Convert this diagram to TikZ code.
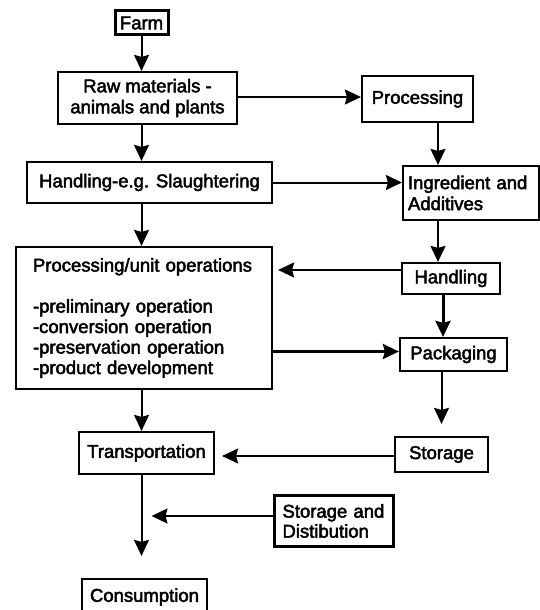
\documentclass[tikz,border=0pt]{standalone}
\usepackage{fontspec}
\setmainfont{Liberation Sans}[FakeBold=2.5,AutoFakeBold=2.5]
\usetikzlibrary{arrows.meta,calc}
\tikzset{
  box/.style={draw=black, line width=2.2pt, fill=white, inner sep=0pt, align=center,
    font=\fontsize{18.5}{21}\selectfont, text=black},
  lbox/.style={box, align=left},
  arr/.style={line width=2pt, -{Stealth[length=16pt,width=15pt,inset=2pt]}},
  tarr/.style={arr, line width=3pt},
}
\begin{document}
\begin{tikzpicture}[x=1pt,y=-1pt]
\useasboundingbox[fill=white] (0,0) rectangle (540,610);
\node[box, line width=3pt, minimum width=53pt, minimum height=24pt] (farm) at (141.5,23) {Farm};
\node[box, minimum width=179pt, minimum height=52pt] (raw) at (147.5,98) {Raw materials -\\animals and plants};
\node[box, minimum width=111pt, minimum height=46pt] (proc) at (417.5,99) {Processing};
\node[box, minimum width=245pt, minimum height=41pt] (hand1) at (149.5,182.5) {Handling-e.g. Slaughtering};
\node[lbox, text width=126pt, minimum height=54pt, inner xsep=5pt] (ingr) at (471,193) {Ingredient and\\Additives};
\node[lbox, text width=222pt, minimum height=142pt, inner xsep=17pt, font=\fontsize{18.5}{20.5}\selectfont] (unit) at (144,318) {Processing/unit operations\\[20.5pt]-preliminary operation\\-conversion operation\\-preservation operation\\-product development};
\node[box, minimum width=98pt, minimum height=31pt] (hand2) at (451,278.5) {Handling};
\node[box, minimum width=107pt, minimum height=33pt] (pack) at (453.5,354.5) {Packaging};
\node[box, minimum width=135pt, minimum height=42pt] (trans) at (146.5,453) {Transportation};
\node[box, minimum width=93pt, minimum height=35pt] (stor) at (441.5,454.5) {Storage};
\node[lbox, text width=103pt, minimum height=51pt, inner xsep=8pt, font=\fontsize{18.5}{20}\selectfont] (sd) at (334,521) {Storage and\\Distibution};
\node[box, minimum width=125pt, minimum height=36pt] (cons) at (144.5,597) {Consumption};

\draw[arr] (farm.south) -- (farm.south |- raw.north);
\draw[arr] (raw.south -| farm) -- (hand1.north -| farm);
\draw[arr] ([yshift=1pt]raw.east) -- ([yshift=1pt]raw.east -| proc.west);
\draw[arr] ([xshift=20.5pt]proc.south) coordinate (p1) -- (p1 |- ingr.north);
\draw[arr] (hand1.east) -- (hand1.east -| ingr.west);
\draw[arr] (hand1.south -| farm) -- (unit.north -| farm);
\draw[arr] (p1 |- ingr.south) -- (p1 |- hand2.north);
\draw[arr, shorten >=5pt] ([yshift=8.5pt]hand2.west) -- ([yshift=8.5pt]hand2.west -| unit.east);
\draw[tarr] ([xshift=-8pt]hand2.south) coordinate (p2) -- (p2 |- pack.north);
\draw[tarr] ([yshift=3pt]pack.west -| unit.east) -- ([yshift=3pt]pack.west);
\draw[arr] (unit.south -| farm) -- (trans.north -| farm);
\draw[arr, shorten >=12pt] (pack.south -| stor) -- (stor.north);
\draw[arr, shorten >=7pt] ([yshift=-1.5pt]stor.west) -- ([yshift=-1.5pt]stor.west -| trans.east);
\draw[arr, shorten >=22pt] (trans.south -| farm) -- (cons.north -| farm);
\draw[arr, shorten >=10pt] ([yshift=5pt]sd.west) -- ([yshift=5pt]sd.west -| farm);
\end{tikzpicture}
\end{document}
